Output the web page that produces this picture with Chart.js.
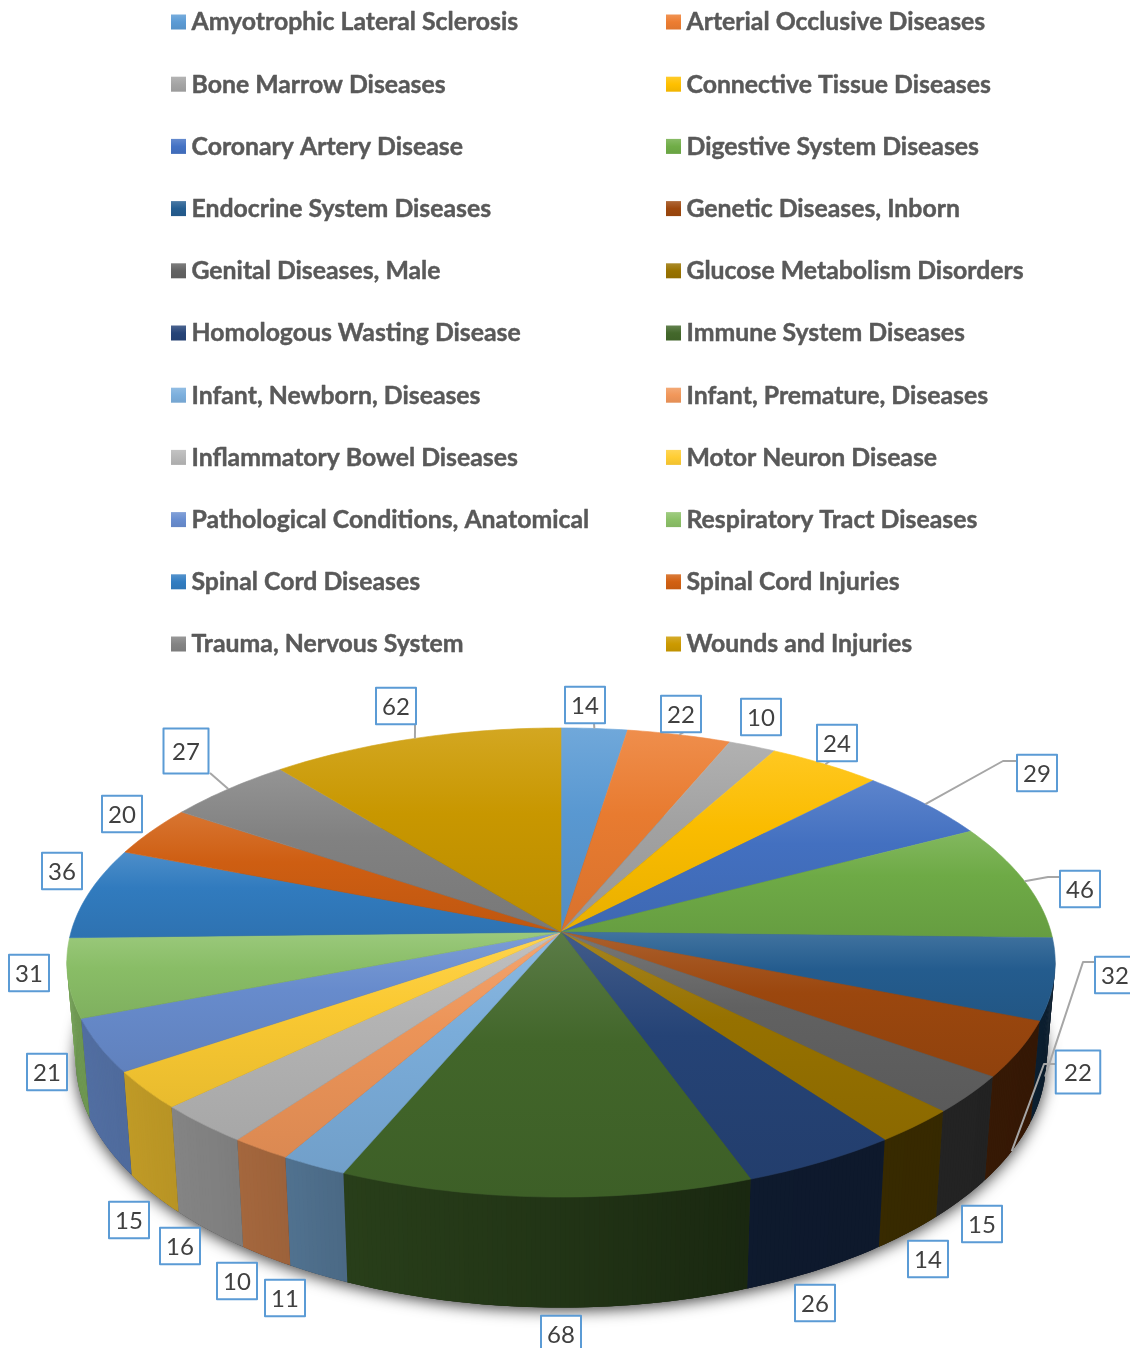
<!DOCTYPE html>
<html>
<head>
<meta charset="utf-8">
<style>html,body{margin:0;padding:0;background:#fff;overflow:hidden}canvas{display:block}</style>
<script src="https://cdn.jsdelivr.net/npm/chart.js@4/dist/chart.umd.min.js"></script>
</head>
<body>
<canvas id="c" width="1130" height="1348"></canvas>
<script>
const categories = [
  "Amyotrophic Lateral Sclerosis","Arterial Occlusive Diseases","Bone Marrow Diseases","Connective Tissue Diseases",
  "Coronary Artery Disease","Digestive System Diseases","Endocrine System Diseases","Genetic Diseases, Inborn",
  "Genital Diseases, Male","Glucose Metabolism Disorders","Homologous Wasting Disease","Immune System Diseases",
  "Infant, Newborn, Diseases","Infant, Premature, Diseases","Inflammatory Bowel Diseases","Motor Neuron Disease",
  "Pathological Conditions, Anatomical","Respiratory Tract Diseases","Spinal Cord Diseases","Spinal Cord Injuries",
  "Trauma, Nervous System","Wounds and Injuries"];
const values = [14,22,10,24,29,46,32,22,15,14,26,68,11,10,16,15,21,31,36,20,27,62];
const sliceColors = ["#5B9BD5","#ED7D31","#A5A5A5","#FFC000","#4472C4","#70AD47","#255E91","#9E480E","#636363","#997300","#264478","#43682B",
  "#7CAFDD","#F1975A","#B7B7B7","#FFCD33","#698ED0","#8CC168","#327DC2","#D26012","#848484","#CC9A00"];

// Label callout layout: box centre, box size, optional elbow, where the leader ends ('top'/'bottom' rim at mid-angle)
const labelLayout = [
 {x:585,y:705,rim:'top',from:[594,723]},
 {x:681,y:714,rim:'top',from:[684,732]},
 {x:761,y:717},
 {x:837,y:743,rim:'top',from:[830,761]},
 {x:1037,y:773,rim:'top',from:[1017,761],elbow:[1003,761]},
 {x:1080,y:889,rim:'top',from:[1060,877],elbow:[1048,877]},
 {x:1115,y:975,rim:'bottom',from:[1095,962],elbow:[1083,962]},
 {x:1078,y:1072,w:44.5,h:43,rim:'bottom',from:[1055,1064],elbow:[1044,1064]},
 {x:982,y:1224},{x:928,y:1259},{x:815,y:1303},{x:561,y:1334},
 {x:285,y:1298},{x:237,y:1281},{x:180,y:1246},{x:129,y:1220},
 {x:47,y:1072},{x:29,y:973},{x:62,y:871},{x:122,y:814},
 {x:186,y:751,w:45,h:45,rim:'top',from:[210,773]},
 {x:396,y:706,rim:'top',from:[415,725]}
];

// Perspective view of the disc
const view = {cx:561, cy:932, a:490, b:230.6, k:0.13, bottomScale:0.982, depth:100, depthGrow:0.06, depthRef:1022, silhouette:0.12};
function project(angle){ // Chart.js arc angle -> top-face pixel
  const t = angle + Math.PI/2, u = Math.sin(t), v = -Math.cos(t), w = 1 - view.k*v;
  return [view.cx + view.a*u/w, view.cy + view.b*v/w];
}
function lower(p){
  return [view.cx + (p[0]-view.cx)*view.bottomScale, p[1] + view.depth + (p[1]-view.depthRef)*view.depthGrow];
}
function rgb(h){return [1,3,5].map(i=>parseInt(h.substr(i,2),16));}
function mix(h,f){ // f<1 darker; f>1 toward white
  const c = rgb(h).map(x=> f<=1 ? x*f : x+(255-x)*(f-1));
  return `rgb(${c.map(Math.round).join(',')})`;
}
const shadeTable = [[90,.26],[110,.33],[160,.38],[180,.50],[203,.60],[210,.65],[220,.70],[235,.75],[250,.78],[270,.85]];
function shadeAt(deg){
  if(deg<=shadeTable[0][0])return shadeTable[0][1];
  for(let i=1;i<shadeTable.length;i++){
    if(deg<=shadeTable[i][0]){const a=shadeTable[i-1],b=shadeTable[i];return a[1]+(b[1]-a[1])*(deg-a[0])/(b[0]-a[0]);}
  }
  return shadeTable[shadeTable.length-1][1];
}
function arcPoints(s,e,stepDeg){
  const n=Math.max(2,Math.ceil((e-s)/((stepDeg||1)*Math.PI/180))),pts=[];
  for(let i=0;i<=n;i++)pts.push(s+(e-s)*i/n);
  return pts;
}
function path(ctx,pts){ctx.beginPath();pts.forEach((p,i)=>i?ctx.lineTo(p[0],p[1]):ctx.moveTo(p[0],p[1]));ctx.closePath();}

const pie3d = {
  id:'pie3d',
  beforeDatasetsDraw(chart){
    const ctx = chart.ctx, arcs = chart.getDatasetMeta(0).data, colors = chart.data.datasets[0].backgroundColor;
    ctx.save();
    // soft shadow under the disc
    const ring = arcPoints(-Math.PI/2, 1.5*Math.PI).map(a=>lower(project(a)));
    ctx.save();
    ctx.shadowColor='rgba(0,0,0,0.75)';ctx.shadowBlur=15;ctx.shadowOffsetY=3;ctx.fillStyle='#333';
    path(ctx,ring);ctx.fill();ctx.restore();

    // side wall between the two silhouette tangents, as overlapping quads (drawn in angle order)
    arcs.forEach((arc,i)=>{
      const s0=Math.max(arc.startAngle,view.silhouette), e0=Math.min(arc.endAngle,Math.PI-view.silhouette);
      if(e0<=s0)return;
      const as=arcPoints(s0,e0,.5);
      for(let j=0;j<as.length-1;j++){
        const p0=project(as[j]),p1=project(as[Math.min(j+2,as.length-1)]);
        const deg=((as[j]+as[j+1])/2+Math.PI/2)*180/Math.PI;
        ctx.fillStyle=mix(colors[i],shadeAt(deg));
        path(ctx,[p0,p1,lower(p1),lower(p0)]);ctx.fill();
      }
    });

    // top faces
    arcs.forEach((arc,i)=>{
      const rim=arcPoints(arc.startAngle,arc.endAngle).map(project), pts=[[view.cx,view.cy]].concat(rim);
      const ys=pts.map(p=>p[1]), y0=Math.min(...ys), y1=Math.max(...ys);
      const g=ctx.createLinearGradient(0,y0,0,y1);
      g.addColorStop(0,mix(colors[i],1.13));
      g.addColorStop(.42,mix(colors[i],.98));
      g.addColorStop(1,mix(colors[i],.91));
      ctx.fillStyle=g;ctx.strokeStyle=g;ctx.lineWidth=.6;
      path(ctx,pts);ctx.fill();ctx.stroke();
    });

    // leaders
    ctx.strokeStyle='#a6a6a6';ctx.lineWidth=2;ctx.lineJoin='round';
    arcs.forEach((arc,i)=>{
      const L=labelLayout[i];
      if(!L.rim)return;
      let end=project((arc.startAngle+arc.endAngle)/2);
      if(L.rim==='bottom')end=lower(end);
      ctx.beginPath();ctx.moveTo(L.from[0],L.from[1]);
      if(L.elbow)ctx.lineTo(L.elbow[0],L.elbow[1]);
      ctx.lineTo(end[0],end[1]);ctx.stroke();
    });

    // value boxes
    ctx.textAlign='center';ctx.textBaseline='middle';
    chart.data.datasets[0].data.forEach((val,i)=>{
      const L=labelLayout[i], w=L.w||40, h=L.h||36.5;
      ctx.fillStyle='#fff';ctx.strokeStyle='#5B9BD5';ctx.lineWidth=2;
      ctx.fillRect(L.x-w/2,L.y-h/2,w,h);ctx.strokeRect(L.x-w/2,L.y-h/2,w,h);
      ctx.fillStyle='#404040';ctx.font='24px Lato';
      ctx.fillText(String(val),L.x,L.y+1);
    });

    // legend, two columns
    ctx.textAlign='left';ctx.font='bold 24.8px Lato';
    chart.data.labels.forEach((lab,i)=>{
      const col=i%2,row=Math.floor(i/2),x=col?666:171,y=22+row*62.2;
      const g=ctx.createLinearGradient(0,y-7.5,0,y+7.5);
      g.addColorStop(0,mix(colors[i],1.17));g.addColorStop(.5,colors[i]);g.addColorStop(1,mix(colors[i],.94));
      ctx.fillStyle=g;ctx.fillRect(x,y-7.5,15,15);
      ctx.fillStyle='#595959';ctx.strokeStyle='#595959';ctx.lineWidth=.45;
      ctx.fillText(lab,x+20.5,y+.5);ctx.strokeText(lab,x+20.5,y+.5);
    });
    ctx.restore();
    return false;
  }
};

new Chart(document.getElementById('c'),{
  type:'pie',
  data:{labels:categories,datasets:[{data:values,backgroundColor:sliceColors,borderWidth:0}]},
  options:{responsive:false,devicePixelRatio:1,animation:false,
    plugins:{legend:{display:false},tooltip:{enabled:false},title:{display:false}}},
  plugins:[pie3d]
});
</script>
</body>
</html>
